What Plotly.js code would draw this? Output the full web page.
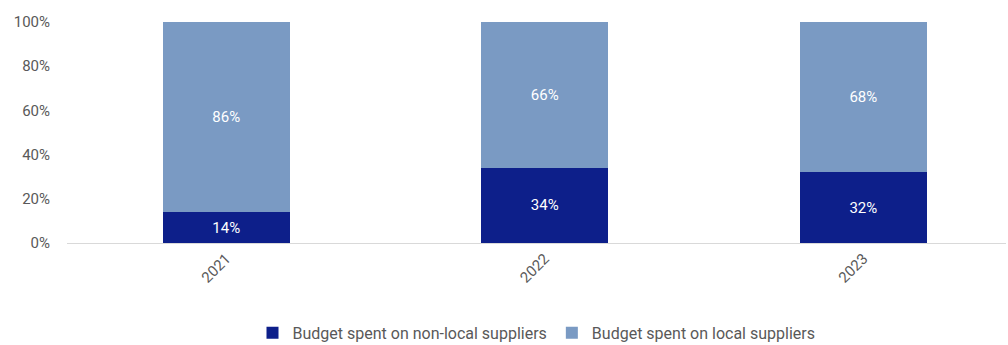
<!DOCTYPE html>
<html><head><meta charset="utf-8">
<script src="https://cdn.plot.ly/plotly-3.0.1.min.js"></script>
<style>html,body{margin:0;padding:0;background:#fff}#chart{width:1008px;height:345px}</style>
</head><body><div id="chart"></div>
<script>
const years = ['2021', '2022', '2023'];
const nonLocal = [14, 34, 32];
const local = [86, 66, 68];
const nonLocalName = 'Budget spent on non-local suppliers';
const localName = 'Budget spent on local suppliers';
const yTicks = [0, 20, 40, 60, 80, 100];
const yTickText = ['0%', '20%', '40%', '60%', '80%', '100%'];

const common = {type: 'bar', x: years, width: 0.4, textposition: 'inside', insidetextanchor: 'middle',
  textangle: 0, constraintext: 'none', textfont: {color: '#ffffff', size: 15, family: 'Roboto'}, hoverinfo: 'skip'};
const data = [
  Object.assign({}, common, {name: nonLocalName, y: nonLocal, text: nonLocal.map(v => v + '%'), marker: {color: '#0D1F8A'}}),
  Object.assign({}, common, {name: localName, y: local, text: local.map(v => v + '%'), marker: {color: '#7A9AC3'}})
];
const layout = {
  width: 1008, height: 345, barmode: 'stack', showlegend: true,
  margin: {l: 67, r: 2, t: 22, b: 102},
  paper_bgcolor: '#fff', plot_bgcolor: '#fff',
  font: {family: 'Roboto', size: 15, color: '#595959'},
  xaxis: {type: 'category', range: [-0.5, 2.448], showline: true, linecolor: '#d9d9d9', linewidth: 1,
    tickangle: -45, ticks: '', showgrid: false, automargin: false, tickfont: {size: 15, color: '#595959'}},
  yaxis: {range: [0, 100], tickvals: yTicks, ticktext: yTickText, showgrid: false, zeroline: false,
    showline: false, ticks: '', automargin: false, ticklabelstandoff: 16, tickfont: {size: 15, color: '#595959'}},
  legend: {orientation: 'h', x: 0.5, xanchor: 'center', yref: 'container', y: 0.035, yanchor: 'middle',
    font: {size: 16, color: '#595959'}, itemwidth: 30, traceorder: 'normal'}
};
Plotly.newPlot('chart', data, layout, {displayModeBar: false, staticPlot: true});
</script></body></html>
